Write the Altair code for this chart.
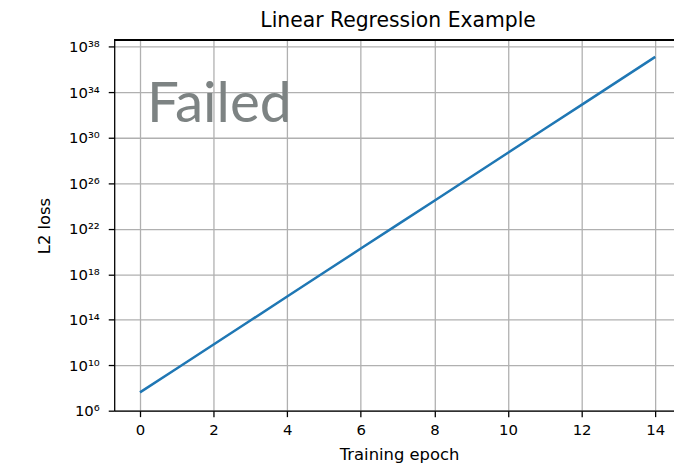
import altair as alt
import pandas as pd

# Data
epochs = [0, 1, 2, 3, 4, 5, 6, 7, 8, 9, 10, 11, 12, 13, 14]
l2_loss = [4.1e7, 5.2e9, 6.6e11, 8.5e13, 1.1e16, 1.4e18, 1.8e20, 2.3e22,
           2.9e24, 3.7e26, 4.8e28, 6.2e30, 7.8e32, 1.0e35, 1.3e37]
x_ticks = [0, 2, 4, 6, 8, 10, 12, 14]
y_ticks = [1e6, 1e10, 1e14, 1e18, 1e22, 1e26, 1e30, 1e34, 1e38]
title_text = "Linear Regression Example"
x_title = "Training epoch"
y_title = "L2 loss"
stamp_text = "Failed"

W, H = 564, 373

df = pd.DataFrame({"epoch": epochs, "loss": l2_loss})

sup = "['\u2070','\u00b9','\u00b2','\u00b3','\u2074','\u2075','\u2076','\u2077','\u2078','\u2079']"
e = "round(log(datum.value)/LN10)"
label_expr = f"'10' + ({e} >= 10 ? {sup}[floor({e}/10)] : '') + {sup}[{e} % 10]"

x_enc = alt.X(
    "epoch:Q",
    scale=alt.Scale(domain=[-0.7, 14.51], nice=False, zero=False),
    axis=alt.Axis(
        values=x_ticks, format="d", title=x_title, labelPadding=6,
        titleX=287, titleY=49, titleBaseline="alphabetic", titleAlign="center",
    ),
)
y_enc = alt.Y(
    "loss:Q",
    scale=alt.Scale(type="log", domain=[1e6, 3.6e38], nice=False),
    axis=alt.Axis(
        values=y_ticks, labelExpr=label_expr, title=y_title, labelPadding=9,
        titleX=-70, titleY=H / 2, titleAngle=-90, titleBaseline="middle",
        titleAlign="center",
    ),
)

line = alt.Chart(df).mark_line(color="#1f77b4", strokeWidth=2.5).encode(x=x_enc, y=y_enc)

top_spine = alt.Chart(df).mark_rule(color="#000000", strokeWidth=1.3).encode(
    x=alt.value(0), x2=alt.value(W), y=alt.value(0)
)

stamp = alt.Chart(pd.DataFrame({"t": [stamp_text]})).mark_text(
    font="Lato", fontSize=57, color="#7d8383", align="left", baseline="alphabetic"
).encode(x=alt.value(33), y=alt.value(82), text="t:N")

chart = (
    alt.layer(line, top_spine, stamp)
    .properties(
        width=W,
        height=H,
        autosize=alt.AutoSizeParams(type="none"),
        padding={"left": 107, "top": 31, "right": 0, "bottom": 52},
        title=alt.TitleParams(
            title_text, fontSize=20.5, font="DejaVu Sans", fontWeight="normal",
            color="#000000", anchor="middle", offset=8, dx=4,
        ),
    )
    .configure_view(stroke=None)
    .configure_axis(
        domainColor="#000000", domainWidth=1.3,
        tickColor="#000000", tickWidth=1.3, tickSize=6,
        gridColor="#b0b0b0", gridWidth=1.3, grid=True,
        labelFont="DejaVu Sans", labelFontSize=15, labelColor="#000000",
        titleFont="DejaVu Sans", titleFontSize=16.5, titleFontWeight="normal",
        titleColor="#000000",
    )
)

chart.save("out.html", embed_options={"renderer": "svg", "actions": False})
